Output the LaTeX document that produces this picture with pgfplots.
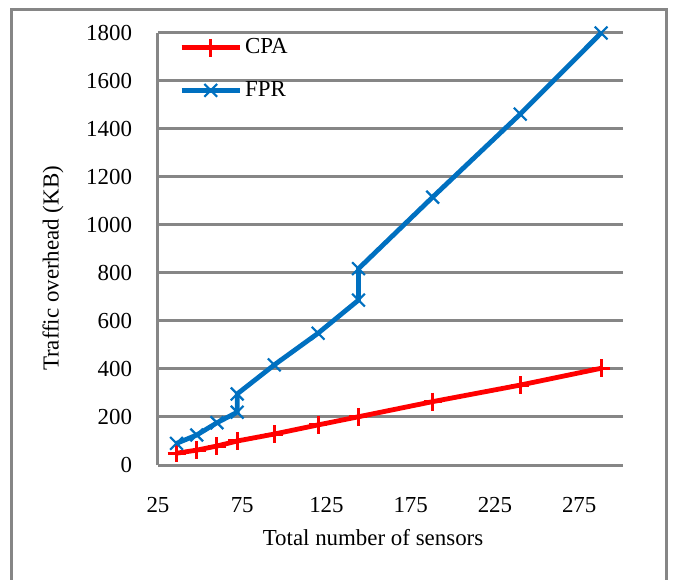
\documentclass[border=0pt]{standalone}
\usepackage{fontspec}
\setmainfont{Liberation Serif}
\usepackage{pgfplots}
\pgfplotsset{compat=1.18}
\definecolor{gridgray}{HTML}{868686}
\definecolor{cpared}{HTML}{FF0000}
\definecolor{fprblue}{HTML}{0070C0}

\begin{document}
\fontsize{11.5}{13.8}\selectfont
\begin{tikzpicture}
\useasboundingbox (-79bp,-57.5bp) rectangle (261.5bp,232.5bp);
% chart area frame
\draw[gridgray, line width=1.5bp] (-73bp,-70bp) -- (-73bp,227.5bp) -- (254bp,227.5bp) -- (254bp,-70bp);
\begin{axis}[
    at={(0,0)}, anchor=south west,
    scale only axis,
    width=232.5bp, height=216bp,
    xmin=25, xmax=301,
    ymin=0, ymax=1800,
    xtick={25,75,125,175,225,275},
    ytick={0,200,400,600,800,1000,1200,1400,1600,1800},
    axis x line*=bottom, axis y line*=left,
    axis line style={gridgray, line width=1.5bp, -},
    ymajorgrids,
    major grid style={gridgray, line width=1.5bp},
    major tick length=0pt,
    /pgf/number format/assume math mode=true,
    /pgf/number format/1000 sep={},
    xticklabel style={yshift=-12bp},
    yticklabel style={xshift=-9bp},
    clip=false,
    legend style={at={(axis description cs:0.045,0.995)}, anchor=north west,
        draw=none, fill=none, inner sep=0pt, row sep=9bp,
        nodes={inner sep=1.5bp}},
    legend cell align=left,
    legend image code/.code={\draw[#1, mark repeat=2, mark phase=2]
        plot coordinates {(0bp,0bp) (14.5bp,0bp) (29bp,0bp)};},
]
\addplot[cpared, line width=2.4bp, mark=+, mark size=4.5bp,
    mark options={line width=1.5bp}] coordinates {
    (36,49) (48,62) (60,79) (72,100) (94,129) (120,167)
    (144,201) (188,264) (240,333) (288,403)};
\addlegendentry{CPA}
\addplot[fprblue, line width=2.4bp, mark=x, mark size=4.5bp,
    mark options={line width=1.1bp}] coordinates {
    (36,90) (48,125) (60,176) (72,220) (72,296) (94,417) (120,549)
    (144,687) (144,818) (188,1116) (240,1462) (288,1800)};
\addlegendentry{FPR}
\end{axis}
\node[rotate=90] at (-52.5bp,98.25bp) {Traffic overhead (KB)};
\node at (107.5bp,-36.5bp) {Total number of sensors};
\end{tikzpicture}
\end{document}
